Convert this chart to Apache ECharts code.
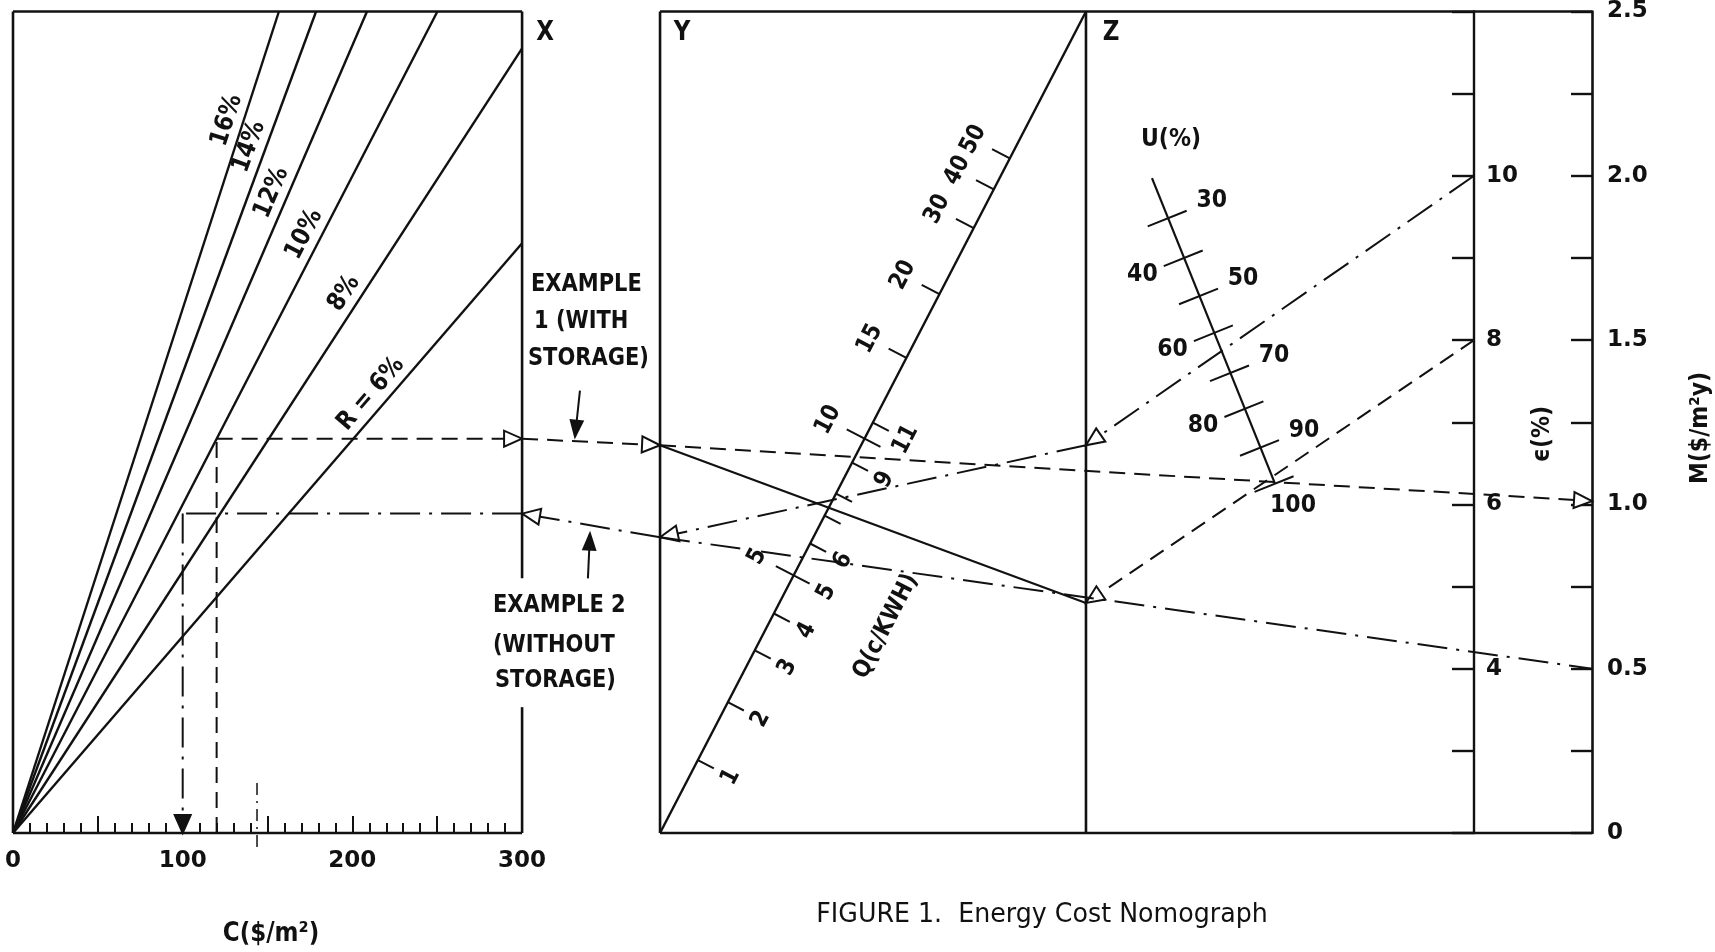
<!DOCTYPE html>
<html>
<head>
<meta charset="utf-8">
<script src="https://cdn.jsdelivr.net/npm/echarts@6/dist/echarts.min.js"></script>
<style>html,body{margin:0;padding:0;background:#fff}#c{width:1715px;height:952px}</style>
</head>
<body>
<div id="c"></div>
<script>
// ================= DATA =================
// C axis (left panel) tick labels
const cLabels = [0, 100, 200, 300];
// M axis ($/m2 y) and epsilon axis (%) tick labels
const mLabelValues = [0, 0.5, 1.0, 1.5, 2.0, 2.5];
const mLabels = ['0', '0.5', '1.0', '1.5', '2.0', '2.5'];
const epsLabelValues = [4, 6, 8, 10];

// interest-rate fan (left panel); level is on the shared vertical scale (M units)
const rates = [6, 8, 10, 12, 14, 16];
const rateLabels = ['R = 6%', '8%', '10%', '12%', '14%', '16%'];
const rateEndC = [300, 300, 250.1, 208.6, 178.6, 156.7];
const rateEndLevel = [1.795, 2.388, 2.5, 2.5, 2.5, 2.5];
const rateLabelC = [218, 203, 180, 161, 148, 135];

// Q (c/KWH) scale on the diagonal of the Y-Z panel
const qValues = [1, 2, 3, 4, 5, 6, 7, 8, 9, 10, 11, 15, 20, 30, 40, 50];
const qLevels = [0.222, 0.398, 0.556, 0.668, 0.784, 0.881, 0.966, 1.033, 1.127, 1.200, 1.249, 1.446, 1.640, 1.841, 1.959, 2.053];
const qTickLabels = ['1', '2', '3', '4', '5', '6', '', '', '9', '10', '11', '15', '20', '30', '40', '50'];
const qTickSide = ['R', 'R', 'R', 'R', 'B', 'R', 'R', 'R', 'R', 'B', 'R', 'L', 'L', 'L', 'L', 'L'];
const qLabelSide = ['R', 'R', 'R', 'R', 'B', 'R', 'R', 'R', 'R', 'L', 'R', 'L', 'L', 'L', 'L', 'L'];

// U (%) scale
const uValues = [30, 40, 50, 60, 70, 80, 90, 100];
const uLevels = [1.871, 1.750, 1.634, 1.522, 1.400, 1.291, 1.173, 1.063];
const uLabelSide = ['R', 'L', 'R', 'L', 'R', 'L', 'R', 'D'];

// Worked examples: [from column or C, from level, to column or C, to level, arrow at end]
const example1Dashed = [
  [120, 0, 120, 1.20, null],
  [120, 1.20, 'X', 1.20, 'open'],
  ['X', 1.20, 'Y', 1.18, 'open'],
  ['Y', 1.18, 'M', 1.01, 'open'],
  ['E', 1.50, 'Z', 0.70, 'open']
];
const example1Solid = [
  ['Y', 1.18, 'Z', 0.70, null]
];
const example2DashDot = [
  ['E', 2.00, 'Z', 1.18, 'open'],
  ['Z', 1.18, 'Y', 0.90, 'open'],
  ['Y', 0.90, 'X', 0.972, 'open'],
  ['X', 0.972, 100, 0.972, null],
  [100, 0.972, 100, 0, 'filled'],
  ['Y', 0.90, 'M', 0.50, null]
];

// ================= LAYOUT =================
const FF = "'DejaVu Sans', 'Liberation Sans', sans-serif";
const INK = '#111';
const COL = { X: 300, Y: 381.3, Z: 632.3, E: 861.0, M: 930.5 };   // column positions on hidden x scale
const XMAX = 930.5;
const frameSegs = [
  [0, 0, 0, 2.5], [0, 2.5, 'X', 2.5], [0, 0, 'X', 0],
  ['X', 2.5, 'X', 0.775], ['X', 0.383, 'X', 0],
  ['Y', 0, 'Y', 2.5], ['Z', 0, 'Z', 2.5],
  ['Y', 2.5, 'M', 2.5], ['Y', 0, 'M', 0]
];
const uLine = { top: [671.2, 1.993], bottom: [743.7, 1.063] };
const qTitle = { x: 514.4, level: 0.629, text: 'Q(c/KWH)' };
const pointers = [
  [334.1, 1.346, 331.2, 1.206],
  [338.8, 0.775, 340.0, 0.911]
];
const guideMark = [143.8, 0.152, 143.8, -0.043];

const DASH = [16, 9];
const DASHDOT = [30, 9, 3, 9];
const TALL = 1.15;   // glyphs in the original are tall and narrow

function colX(v) { return typeof v === 'string' ? COL[v] : v; }
function unit(a, b) { const dx = b[0] - a[0], dy = b[1] - a[1]; const L = Math.hypot(dx, dy) || 1; return [dx / L, dy / L]; }
function add(p, n, k) { return [p[0] + n[0] * k, p[1] + n[1] * k]; }
function lineEl(a, b, w, dash) {
  return { type: 'line', shape: { x1: a[0], y1: a[1], x2: b[0], y2: b[1] },
    style: { stroke: INK, lineWidth: w, lineDash: dash || null, lineCap: 'butt' } };
}
function textEl(p, text, size, rot, align, bold) {
  return { type: 'text', x: p[0], y: p[1], rotation: rot || 0, scaleY: TALL,
    style: { text: text, fontSize: size, fontWeight: bold === false ? 'normal' : 'bold', fontFamily: FF,
      fill: INK, align: align || 'center', verticalAlign: 'middle' } };
}
function arrowHead(tip, from, kind, len, half) {
  const d = unit(from, tip);
  const bx = tip[0] - d[0] * len, by = tip[1] - d[1] * len;
  return { type: 'polygon',
    shape: { points: [[tip[0], tip[1]], [bx - d[1] * half, by + d[0] * half], [bx + d[1] * half, by - d[0] * half]] },
    style: { fill: kind === 'filled' ? INK : '#fff', stroke: INK, lineWidth: 2, lineJoin: 'miter' } };
}
function segEls(api, segs, w, dash) {
  const out = [];
  segs.forEach(s => {
    const a = api.coord([colX(s[0]), s[1]]);
    const b = api.coord([colX(s[2]), s[3]]);
    out.push(lineEl(a, b, w, dash));
    if (s[4]) out.push(arrowHead(b, a, s[4], 18, 8));
  });
  return out;
}
function drawing(name, build) {
  return { type: 'custom', name: name, coordinateSystem: 'cartesian2d', xAxisIndex: 0, yAxisIndex: 0,
    data: [[0, 0]], silent: true, clip: false, animation: false,
    renderItem: (params, api) => ({ type: 'group', children: build(api) }) };
}

const series = [
  drawing('frame', api => frameSegs.map(s => lineEl(api.coord([colX(s[0]), s[1]]), api.coord([colX(s[2]), s[3]]), 2.6))),
  drawing('rates', api => {
    const o = api.coord([0, 0]); const out = [];
    rates.forEach((r, i) => {
      const e = api.coord([rateEndC[i], rateEndLevel[i]]);
      out.push(lineEl(o, e, 2.4));
      const lc = rateLabelC[i];
      const p = api.coord([lc, rateEndLevel[i] * lc / rateEndC[i]]);
      const d = unit(o, e); const n = [d[1], -d[0]];
      out.push(textEl(add(p, n, 16), rateLabels[i], 22, Math.atan2(-d[1], d[0])));
    });
    return out;
  }),
  drawing('Q scale', api => {
    const b = api.coord([COL.Y, 0]), t = api.coord([COL.Z, 2.5]);
    const out = [lineEl(b, t, 2.4)];
    const d = unit(b, t); const nR = [-d[1], d[0]], nL = [d[1], -d[0]];
    const rot = Math.atan2(-d[1], d[0]);
    qValues.forEach((q, i) => {
      const L = qLevels[i];
      const p = api.coord([COL.Y + (COL.Z - COL.Y) * L / 2.5, L]);
      const s = qTickSide[i];
      const a = (s === 'L' || s === 'B') ? add(p, nL, 20) : p;
      const c = (s === 'R' || s === 'B') ? add(p, nR, 18) : p;
      out.push(lineEl(a, c, 2));
      const ls = qLabelSide[i];
      if (qTickLabels[i]) {
        if (ls === 'R' || ls === 'B') out.push(textEl(add(p, nR, 37), qTickLabels[i], 21, rot));
        if (ls === 'L' || ls === 'B') out.push(textEl(add(p, nL, 41), qTickLabels[i], 21, rot));
      }
    });
    out.push(textEl(api.coord([qTitle.x, qTitle.level]), qTitle.text, 21, rot));
    return out;
  }),
  drawing('U scale', api => {
    const top = api.coord(uLine.top), bot = api.coord(uLine.bottom);
    const out = [lineEl(top, bot, 2.2)];
    const d = unit(top, bot); const nR = [d[1], -d[0]], nL = [-d[1], d[0]];
    const span = uLine.top[1] - uLine.bottom[1];
    uValues.forEach((u, i) => {
      const f = (uLine.top[1] - uLevels[i]) / span;
      const p = api.coord([uLine.top[0] + f * (uLine.bottom[0] - uLine.top[0]), uLevels[i]]);
      out.push(lineEl(add(p, nL, 22), add(p, nR, 20), 2));
      const side = uLabelSide[i];
      let lp;
      if (side === 'R') lp = add(p, nR, 47);
      else if (side === 'L') lp = add(p, nL, 45);
      else lp = [p[0] + 18, p[1] + 22];
      out.push(textEl(lp, String(u), 22, 0));
    });
    return out;
  }),
  drawing('example 1', api => segEls(api, example1Solid, 2.2, null).concat(segEls(api, example1Dashed, 2, DASH))),
  drawing('example 2', api => segEls(api, example2DashDot, 2, DASHDOT)
    .concat([lineEl(api.coord([guideMark[0], guideMark[1]]), api.coord([guideMark[2], guideMark[3]]), 1.5, [12, 6, 2, 6])])),
  drawing('pointers', api => {
    const out = [];
    pointers.forEach(s => {
      const a = api.coord([s[0], s[1]]), b = api.coord([s[2], s[3]]);
      out.push(lineEl(a, b, 2));
      out.push(arrowHead(b, a, 'filled', 16, 6));
    });
    return out;
  })
];

const textStyle = { fontFamily: FF, fontWeight: 'bold', color: INK };
const annotations = [
  { text: 'X', x: 545, y: 33, size: 23 },
  { text: 'Y', x: 682, y: 33, size: 23 },
  { text: 'Z', x: 1111, y: 33, size: 23 },
  { text: 'U(%)', x: 1171, y: 139, size: 22 },
  { text: 'EXAMPLE', x: 531, y: 285, size: 21, align: 'left' },
  { text: '1 (WITH', x: 534, y: 322, size: 21, align: 'left' },
  { text: 'STORAGE)', x: 528, y: 359, size: 21, align: 'left' },
  { text: 'EXAMPLE 2', x: 493, y: 606, size: 21, align: 'left' },
  { text: '(WITHOUT', x: 493, y: 646, size: 21, align: 'left' },
  { text: 'STORAGE)', x: 495, y: 681, size: 21, align: 'left' },
  { text: 'C($/m²)', x: 271, y: 934, size: 23 },
  { text: 'M($/m²y)', x: 1700, y: 428, size: 22, rot: Math.PI / 2 },
  { text: 'ϵ(%)', x: 1542, y: 434, size: 22, rot: Math.PI / 2 },
  { text: 'FIGURE 1.  Energy Cost Nomograph', x: 1042, y: 915, size: 23, bold: false, sx: 1.1 }
];

const hiddenAxis = { show: false, axisLine: { show: false, onZero: false }, axisTick: { show: false }, axisLabel: { show: false }, splitLine: { show: false } };

const option = {
  animation: false,
  backgroundColor: '#fff',
  grid: [
    { left: 13, top: 10, width: 1579, height: 823 },
    { left: 13, top: 10, width: 509, height: 823 }
  ],
  xAxis: [
    Object.assign({ gridIndex: 0, type: 'value', min: 0, max: XMAX }, hiddenAxis),
    { gridIndex: 1, type: 'value', min: 0, max: 300, interval: 50, position: 'bottom',
      axisLine: { show: false, onZero: false }, splitLine: { show: false },
      axisTick: { inside: true, length: 17, lineStyle: { color: INK, width: 2 } },
      axisLabel: Object.assign({ fontSize: 23, margin: 17,
        formatter: v => cLabels.includes(v) ? String(v) : '' }, textStyle) },
    { gridIndex: 1, type: 'value', min: 0, max: 300, interval: 10, position: 'bottom',
      axisLine: { show: false, onZero: false }, splitLine: { show: false }, axisLabel: { show: false },
      axisTick: { inside: true, length: 10, lineStyle: { color: INK, width: 2 } } }
  ],
  yAxis: [
    { gridIndex: 0, type: 'value', min: 0, max: 2.5, interval: 0.25, position: 'right',
      axisLine: { show: true, onZero: false, lineStyle: { color: INK, width: 2.6 } },
      axisTick: { show: true, inside: true, length: 21, lineStyle: { color: INK, width: 2.4 } },
      splitLine: { show: false },
      axisLabel: Object.assign({ fontSize: 23, margin: 15, formatter: v => {
        const i = mLabelValues.findIndex(x => Math.abs(x - v) < 1e-6); return i >= 0 ? mLabels[i] : ''; } }, textStyle) },
    { gridIndex: 0, type: 'value', min: 2, max: 12, interval: 1, position: 'right', offset: -118,
      axisLine: { show: true, onZero: false, lineStyle: { color: INK, width: 2.4 } },
      axisTick: { show: true, inside: true, length: 22, lineStyle: { color: INK, width: 2.4 } },
      splitLine: { show: false },
      axisLabel: Object.assign({ fontSize: 23, margin: 12,
        formatter: v => epsLabelValues.includes(v) ? String(v) : '' }, textStyle) },
    Object.assign({ gridIndex: 1, type: 'value', min: 0, max: 2.5, position: 'left' }, hiddenAxis)
  ],
  series: series,
  graphic: { elements: annotations.map(a => ({
    type: 'text', x: a.x, y: a.y, rotation: a.rot || 0, scaleY: TALL, scaleX: a.sx || 1, silent: true,
    style: { text: a.text, fontSize: a.size, fontWeight: a.bold === false ? 'normal' : 'bold', fontFamily: FF,
      fill: INK, align: a.align || 'center', verticalAlign: 'middle' } })) }
};

const chart = echarts.init(document.getElementById('c'), null, { renderer: 'canvas' });
chart.setOption(option);
</script>
</body>
</html>
